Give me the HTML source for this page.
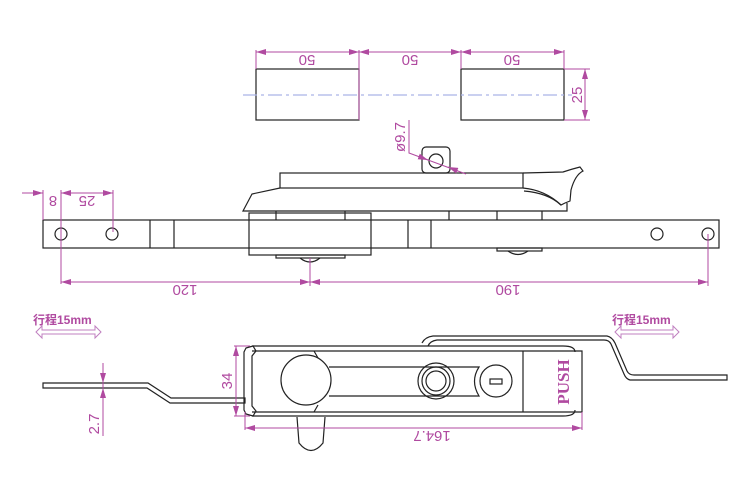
<!DOCTYPE html>
<html><head><meta charset="utf-8"><style>
html,body{margin:0;padding:0;background:#fff}
svg{display:block}
.k{fill:none;stroke:#222;stroke-width:1.2}
.d{fill:none;stroke:#b04aa0;stroke-width:1}
.t{fill:#b04aa0;font-family:"Liberation Sans",sans-serif;font-size:15px}
.c{fill:#b04aa0;font-family:"Liberation Sans","Noto Sans CJK SC",sans-serif;font-size:12px;font-weight:bold}
</style></head><body>
<svg width="750" height="500" viewBox="0 0 750 500" xmlns="http://www.w3.org/2000/svg">
<defs>
<marker id="a" viewBox="0 0 10 6" refX="10" refY="3" markerWidth="10" markerHeight="6" orient="auto-start-reverse" markerUnits="userSpaceOnUse"><path d="M0,0L10,3L0,6z" fill="#b04aa0"/></marker>
</defs>
<rect class="k" x="256" y="69" width="103" height="51"/>
<rect class="k" x="461" y="69" width="103" height="51"/>
<line x1="243" y1="95" x2="572" y2="95" stroke="#aab4e8" stroke-width="1.3" stroke-dasharray="14,4,3,4"/>
<g class="d">
<line x1="256" y1="50" x2="256" y2="69"/><line x1="359" y1="50" x2="359" y2="120"/>
<line x1="461" y1="50" x2="461" y2="69"/><line x1="564" y1="50" x2="564" y2="69"/>
<line x1="256" y1="52" x2="359" y2="52" marker-start="url(#a)" marker-end="url(#a)"/>
<line x1="359" y1="52" x2="461" y2="52" marker-start="url(#a)" marker-end="url(#a)"/>
<line x1="461" y1="52" x2="564" y2="52" marker-start="url(#a)" marker-end="url(#a)"/>
<line x1="564" y1="69" x2="590" y2="69"/><line x1="564" y1="120" x2="590" y2="120"/>
<line x1="585" y1="69" x2="585" y2="120" marker-start="url(#a)" marker-end="url(#a)"/>
</g>
<text class="t" transform="translate(307,55) rotate(180)" text-anchor="middle">50</text>
<text class="t" transform="translate(410,55) rotate(180)" text-anchor="middle">50</text>
<text class="t" transform="translate(512,55) rotate(180)" text-anchor="middle">50</text>
<text class="t" transform="translate(582,95) rotate(-90)" text-anchor="middle">25</text>
<rect class="k" x="280" y="173" width="243" height="15"/>
<path class="k" d="M523,173 L563,172 Q572,169 580,167 L583,171 Q575,175 571,190 L570,201 L565,203 L561,205 Q545,190 523,188"/>
<path class="k" d="M524,191 Q548,193 561,205" stroke-width="0.8"/>
<path class="k" d="M280,188 L252,194 L243,211 L567,211 L567,203"/>
<g class="k">
<line x1="276" y1="211" x2="276" y2="220"/><line x1="345" y1="211" x2="345" y2="220"/>
<line x1="449" y1="211" x2="449" y2="220"/><line x1="497" y1="211" x2="497" y2="220"/><line x1="542" y1="211" x2="542" y2="220"/>
</g>
<rect class="k" x="43" y="220" width="676" height="28" fill="#fff"/>
<line class="k" x1="150" y1="220" x2="150" y2="248"/><line class="k" x1="174" y1="220" x2="174" y2="248"/>
<line class="k" x1="408" y1="220" x2="408" y2="248"/><line class="k" x1="431" y1="220" x2="431" y2="248"/>
<rect class="k" x="249" y="213" width="122" height="42" fill="#fff"/>
<rect class="k" x="276" y="255" width="69" height="3"/>
<path class="k" d="M300,258 Q310,266 320,258"/>
<rect class="k" x="497" y="248" width="45" height="3"/>
<path class="k" d="M508,251 Q518,258 528,251"/>
<circle class="k" cx="61" cy="234" r="6"/><circle class="k" cx="112" cy="234" r="6"/>
<circle class="k" cx="657" cy="234" r="6"/><circle class="k" cx="708" cy="234" r="6"/>
<rect class="k" x="422" y="147" width="28" height="26" rx="4"/>
<circle class="k" cx="436" cy="161" r="7"/>
<g class="d">
<polyline points="409,120 409,153 466,174"/>
<line x1="420" y1="157" x2="428" y2="160" marker-end="url(#a)"/>
<line x1="458" y1="171" x2="448" y2="167" marker-end="url(#a)"/>
<line x1="22" y1="193" x2="43" y2="193" marker-end="url(#a)"/>
<line x1="43" y1="190" x2="43" y2="220"/>
<line x1="61" y1="190" x2="61" y2="284"/>
<line x1="61" y1="193" x2="113" y2="193" marker-start="url(#a)" marker-end="url(#a)"/>
<line x1="113" y1="190" x2="113" y2="232"/>
<line x1="61" y1="282" x2="310" y2="282" marker-start="url(#a)" marker-end="url(#a)"/>
<line x1="310" y1="282" x2="708" y2="282" marker-start="url(#a)" marker-end="url(#a)"/>
<line x1="310" y1="258" x2="310" y2="286"/>
<line x1="708" y1="234" x2="708" y2="286"/>
</g>
<text class="t" transform="translate(405,137) rotate(-90)" text-anchor="middle">ø9.7</text>
<text class="t" transform="translate(53,196) rotate(180)" text-anchor="middle">8</text>
<text class="t" transform="translate(87,196) rotate(180)" text-anchor="middle">25</text>
<text class="t" transform="translate(185,285) rotate(180)" text-anchor="middle">120</text>
<text class="t" transform="translate(508,285) rotate(180)" text-anchor="middle">190</text>
<text class="c" x="33" y="324">行程15mm</text>
<text class="c" x="612" y="324">行程15mm</text>
<path d="M36,332 L42,326 L42,330 L95,330 L95,326 L101,332 L95,338 L95,334 L42,334 L42,338 Z" fill="none" stroke="#c080c0" stroke-width="1"/>
<path d="M615,332 L621,326 L621,330 L673,330 L673,326 L679,332 L673,338 L673,334 L621,334 L621,338 Z" fill="none" stroke="#c080c0" stroke-width="1"/>
<path class="k" d="M43,383 L148,383 L171,398 L245,398 L245,403 L170,403 L147,388 L43,388 Z"/>
<path class="k" d="M422,343 Q425,337 433,336 L607,336 Q612,337 615,343 L627,371 Q629,375 634,375 L727,375 L727,380 L630,380 Q626,379 624,374 L611,344 Q609,340 604,340 L437,340 Q430,341 428,346"/>
<path class="k" d="M252,346 L563,346 Q575,346 575,352 M252,416 L563,416 Q575,416 575,410"/>
<path class="k" d="M252,351 L582,351 L582,412 L252,412"/>
<path class="k" d="M246,348 L253,346 L256,351 L252,356 L252,406 L256,411 L253,416 L246,414 L244,410 L244,352 Z"/>
<line class="k" x1="523" y1="351" x2="523" y2="412"/>
<path class="k" d="M297,417 L299,443 Q311,458 323,443 L325,417"/>
<path class="k" d="M314,351 L318,358 M314,412 L318,405"/>
<circle class="k" cx="306" cy="380" r="25" fill="#fff"/>
<path class="k" d="M329,367 L479,367 Q470,381 479,396 L329,396"/>
<circle class="k" cx="436" cy="381" r="18"/><circle class="k" cx="436" cy="381" r="14"/><circle class="k" cx="436" cy="381" r="10"/>
<circle class="k" cx="496" cy="381" r="16"/>
<rect class="k" x="490" y="379" width="12" height="5"/>
<text transform="translate(569,382) rotate(-90)" text-anchor="middle" fill="#b04aa0" font-family="Liberation Serif,serif" font-size="17" font-weight="bold">PUSH</text>
<g class="d">
<line x1="236" y1="346" x2="236" y2="416" marker-start="url(#a)" marker-end="url(#a)"/>
<line x1="234" y1="346" x2="250" y2="346"/><line x1="234" y1="416" x2="250" y2="416"/>
<line x1="103" y1="363" x2="103" y2="383" marker-end="url(#a)"/>
<line x1="103" y1="408" x2="103" y2="388" marker-end="url(#a)"/>
<line x1="103" y1="383" x2="103" y2="436"/>
<line x1="245" y1="412" x2="245" y2="430"/>
<line x1="582" y1="412" x2="582" y2="430"/>
<line x1="245" y1="428" x2="582" y2="428" marker-start="url(#a)" marker-end="url(#a)"/>
</g>
<text class="t" transform="translate(232,381) rotate(-90)" text-anchor="middle">34</text>
<text class="t" transform="translate(99,424) rotate(-90)" text-anchor="middle">2.7</text>
<text class="t" transform="translate(432,431) rotate(180)" text-anchor="middle">164.7</text>
</svg>
</body></html>
